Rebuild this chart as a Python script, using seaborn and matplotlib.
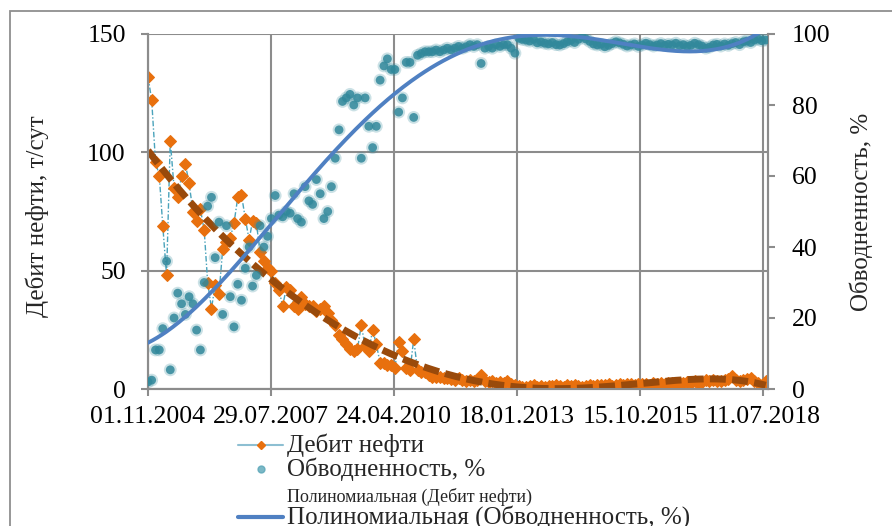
import numpy as np
import pandas as pd
import matplotlib
matplotlib.use("Agg")
import matplotlib.pyplot as plt
from matplotlib.lines import Line2D
from matplotlib.patches import Rectangle
import seaborn as sns

# Monthly well observations, first month and count
start_date = "2004-11-01"
end_limit = "2018-08-20"

# Oil rate, t/day
oil_rate = [
    132, 122, 96, 90, 69, 48, 105, 85, 81, 90,
    95, 87, 75, 71, 76, 67, 45, 34, 44, 40,
    59, 62, 64, 70, 81, 82, 72, 63, 71, 70,
    58, 54, 51, 50, 45, 42, 35, 43, 42, 35,
    34, 39, 36, 35, 35, 33, 34, 35, 32, 29,
    27, 23, 21, 19, 17, 16, 17, 27, 18, 16,
    25, 19, 11, 11, 10, 10, 9, 20, 16, 9,
    8, 21, 8, 7, 7, 6, 5, 5, 5, 4.6,
    4.5, 4.2, 4.0, 4.8, 3.8, 3.5, 4.0, 3.2, 3.6, 6.0,
    3.4, 3.0, 3.5, 2.6, 3.0, 2.5, 3.2, 2.0, 1.6, 1.2,
    1.0, 0.8, 1.2, 1.5, 1.0, 1.3, 0.9, 1.4, 1.1, 1.6,
    1.2, 1.0, 1.5, 1.3, 1.8, 1.2, 1.0, 1.4, 1.7, 1.3,
    1.5, 1.9, 1.6, 2.0, 1.4, 1.8, 2.2, 1.7, 2.0, 2.1,
    1.9, 2.1, 2.3, 2.0, 1.9, 2.4, 2.2, 2.6, 2.1, 2.4,
    2.5, 2.3, 2.7, 2.4, 2.9, 2.6, 3.2, 2.7, 3.0, 3.6,
    3.2, 3.8, 3.4, 3.3, 4.0, 4.4, 5.6, 3.8, 3.4, 4.0,
    4.3, 4.8, 3.5, 2.6, 1.7, 3.2,
]

# Water cut, %
water_cut = [
    2, 2.5, 11, 11, 17, 36, 5.4, 20, 27, 24,
    21, 26, 24, 16.6, 11, 30, 51.5, 54, 37, 47,
    21, 46, 26, 17.5, 29.5, 25, 34, 40, 29, 32,
    46, 40, 43, 48, 54.5, 49, 48.5, 50, 49.5, 55,
    48, 47, 57, 53, 52, 59, 55, 48, 50, 57,
    65, 73, 81, 82, 83, 80, 82, 65, 82, 74,
    68, 74, 87, 91, 93, 90, 90, 78, 82, 92,
    92, 76.5, 94, 94.5, 95, 95, 95, 95.5, 95, 95.5,
    96, 95.5, 96, 96.5, 96, 96.4, 97, 96.5, 97, 91.7,
    96, 96.5, 96, 97, 96.5, 97, 97, 96, 94.6, 98.8,
    98.5, 98.3, 98, 98.5, 97.5, 97.8, 97.4, 97.2, 97.6, 97.0,
    96.9, 97.3, 97.8, 98.2, 97.6, 98.5, 99.2, 98.6, 97.9, 97.2,
    96.9, 97.1, 96.4, 96.8, 97.3, 97.8, 97.5, 97.1, 96.6, 96.9,
    97.2, 96.5, 96.9, 97.4, 97.0, 96.6, 96.9, 97.3, 96.8, 97.1,
    96.9, 97.4, 96.7, 97.0, 96.5, 96.8, 97.4, 97.0, 96.6, 96.0,
    96.3, 96.9, 97.1, 96.6, 97.2, 96.8, 97.3, 97.6, 97.0, 97.8,
    98.0, 97.6, 98.3, 98.6, 98.1, 98.3,
]

tick_labels = ["01.11.2004", "29.07.2007", "24.04.2010",
               "18.01.2013", "15.10.2015", "11.07.2018"]

oil_fit_degree = 5
wc_fit_degree = 4

dates = pd.date_range(start_date, periods=len(oil_rate), freq="MS")
df = pd.DataFrame({"date": dates, "oil": oil_rate, "wc": water_cut})

# Polynomial trend lines (least squares over scaled day offsets)
days = (df["date"] - df["date"].iloc[0]).dt.days.to_numpy(dtype=float)
span = days[-1]
grid_days = np.linspace(days[0], days[-1], 400)
grid_dates = df["date"].iloc[0] + pd.to_timedelta(grid_days, unit="D")
oil_trend = np.polyval(np.polyfit(days / span, df["oil"], oil_fit_degree),
                       grid_days / span)
wc_trend = np.polyval(np.polyfit(days / span, df["wc"], wc_fit_degree),
                      grid_days / span)
trend = pd.DataFrame({"date": grid_dates, "oil": oil_trend, "wc": wc_trend})

# Styling
sns.set_theme(style="white")
serif = ["Liberation Serif", "DejaVu Serif"]
plt.rcParams["font.family"] = serif

W, H = 892, 526
GRID = "#8c8c8c"
ORANGE = "#e8700e"
BROWN = "#994a0b"
TEAL = "#31889b"
BLUE = "#4f80c2"
LINE_BLUE = "#4aa3bb"

fig = plt.figure(figsize=(W / 100, H / 100), dpi=100)
fig.patch.set_facecolor("white")
ax1 = fig.add_axes([148 / W, 1 - 389 / H, 620 / W, 355 / H])
ax2 = ax1.twinx()

# Oil rate: line with diamond markers + trend
sns.lineplot(data=df, x="date", y="oil", ax=ax1, sort=False, estimator=None,
             color=LINE_BLUE, lw=1.0, ls=(0, (4, 1.5, 1, 1.5)),
             marker="D", markersize=6.3, markerfacecolor=ORANGE,
             markeredgecolor=ORANGE, zorder=3)
sns.lineplot(data=trend, x="date", y="oil", ax=ax1, sort=False, estimator=None,
             color=BROWN, lw=5, zorder=4)
ax1.lines[-1].set_dashes((2.3, 0.9))
ax1.lines[-1].set_dash_capstyle("butt")

# Water cut: soft dots + trend
sns.scatterplot(data=df, x="date", y="wc", ax=ax2, s=85, color=TEAL,
                alpha=0.25, edgecolor="none", zorder=2)
sns.scatterplot(data=df, x="date", y="wc", ax=ax2, s=40, color=TEAL,
                alpha=0.85, edgecolor="none", zorder=3)
sns.lineplot(data=trend, x="date", y="wc", ax=ax2, sort=False, estimator=None,
             color=BLUE, lw=2.8, zorder=4)

# Axes ranges and ticks
tick_pos = pd.to_datetime(tick_labels, format="%d.%m.%Y")
ax1.set_xlim(pd.Timestamp(start_date), pd.Timestamp(end_limit))
ax1.set_ylim(0, 150)
ax2.set_ylim(0, 100)
ax1.set_xticks(tick_pos)
ax1.set_xticklabels(tick_labels)
ax1.set_yticks([0, 50, 100, 150])
ax2.set_yticks([0, 20, 40, 60, 80, 100])

ax1.grid(True, color=GRID, lw=1.5)
ax1.set_axisbelow(True)
ax2.grid(False)
for ax in (ax1, ax2):
    ax.set_xlabel("")
    ax.set_ylabel("")
    for sp in ax.spines.values():
        sp.set_color(GRID)
        sp.set_linewidth(1.5)
ax1.spines["top"].set_visible(False)
ax2.spines["top"].set_visible(False)

tick_font = 18.5
ax1.tick_params(axis="x", direction="out", length=5, width=1.5, color=GRID,
                pad=7, labelsize=tick_font, labelcolor="black", bottom=True)
ax1.tick_params(axis="y", direction="out", length=5, width=1.5, color=GRID,
                pad=11, labelsize=tick_font, labelcolor="black", left=True)
ax2.tick_params(axis="y", direction="out", length=5, width=1.5, color=GRID,
                pad=12, labelsize=tick_font, labelcolor="black", right=True)

# Axis titles
fig.text(37 / W, 1 - 216 / H, "Дебит нефти, т/сут", rotation=90,
         ha="center", va="center", fontsize=18, family=serif)
fig.text(861 / W, 1 - 212 / H, "Обводненность, %", rotation=90,
         ha="center", va="center", fontsize=18, family=serif)

# Outer chart frame
fig.patches.append(Rectangle((10 / W, -0.5), 1.5, (1 - 11 / H) + 0.5,
                             transform=fig.transFigure, fill=False,
                             ec="#8f8f8f", lw=1.3))

# Legend below the plot
def fx(px):
    return px / W

def fy(py):
    return 1 - py / H

hx0, hx1, hxm, tx = 238, 283, 261, 287
rows = [445, 469, 497, 517]
fig.add_artist(Line2D([fx(hx0), fx(hx1)], [fy(rows[0])] * 2,
                      color="#8dbfd2", lw=1.5, transform=fig.transFigure))
fig.add_artist(Line2D([fx(hxm)], [fy(rows[0])], marker="D", ms=4,
                      color=ORANGE, transform=fig.transFigure))
fig.add_artist(Line2D([fx(hxm)], [fy(rows[1])], marker="o", ms=5, ls="none",
                      color="#5aa6b8", alpha=0.8, transform=fig.transFigure))
fig.add_artist(Line2D([fx(hx0), fx(hx1)], [fy(rows[3])] * 2,
                      color=BLUE, lw=3, transform=fig.transFigure))
legend_labels = ["Дебит нефти", "Обводненность, %",
                 "Полиномиальная (Дебит нефти)",
                 "Полиномиальная (Обводненность, %)"]
legend_sizes = [18, 18, 13, 18]
for y, lab, fs in zip(rows, legend_labels, legend_sizes):
    fig.text(fx(tx), fy(y), lab, ha="left", va="center", fontsize=fs,
             family=serif)

fig.savefig("out.png", dpi=100)
